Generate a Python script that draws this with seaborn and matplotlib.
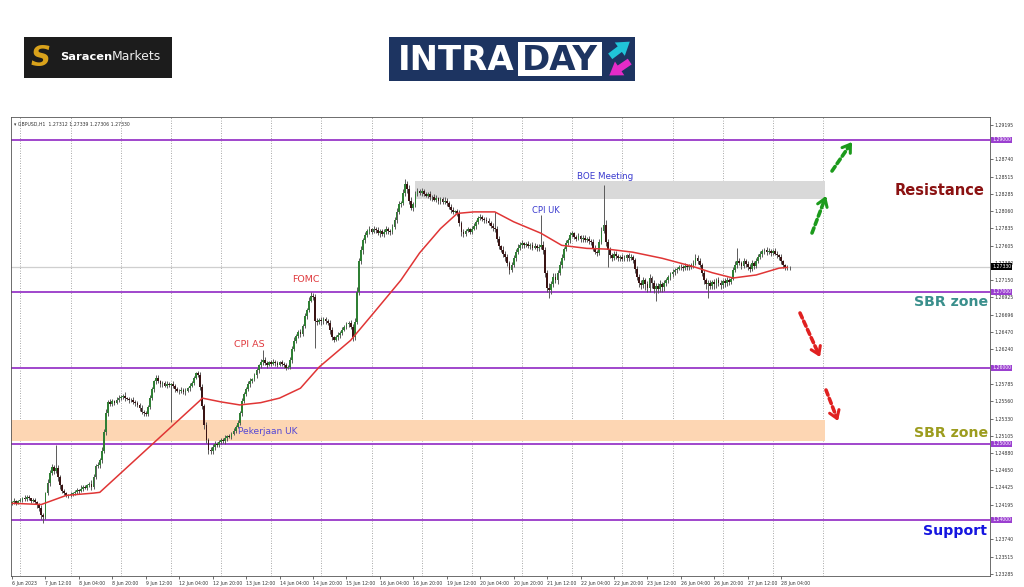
import numpy as np
import seaborn as sns
import matplotlib.pyplot as plt
from matplotlib.patches import Rectangle, FancyArrowPatch

# GBPUSD H1, 6 Jun 20:00 -> 28 Jun 08:00 (bar index = hours, weekends removed)
# closes in 1e-5 above 1.20000
closes = [
    4230, 4250, 4220, 4240, 4260, 4280, 4270, 4300, 4280, 4250,
    4260, 4230, 4200, 4150, 4060, 4040, 4350, 4480, 4620, 4690,
    4640, 4680, 4560, 4450, 4380, 4350, 4330, 4320, 4340, 4350,
    4370, 4390, 4380, 4410, 4430, 4420, 4450, 4470, 4430, 4560,
    4700, 4720, 4780, 4900, 5150, 5400, 5550, 5520, 5560, 5540,
    5580, 5600, 5620, 5630, 5600, 5590, 5570, 5580, 5550, 5530,
    5510, 5470, 5420, 5400, 5390, 5480, 5600, 5720, 5820, 5870,
    5820, 5780, 5800, 5760, 5790, 5770, 5790, 5760, 5720, 5700,
    5690, 5710, 5680, 5700, 5730, 5760, 5800, 5870, 5930, 5910,
    5750, 5500, 5250, 5050, 4920, 4900, 4950, 5000, 4980, 5020,
    5050, 5030, 5070, 5100, 5090, 5130, 5170, 5220, 5270, 5400,
    5560, 5650, 5720, 5790, 5830, 5850, 5900, 5970, 6030, 6080,
    6100, 6060, 6040, 6070, 6050, 6080, 6060, 6040, 6070, 6050,
    6030, 6000, 6010, 6100, 6250, 6350, 6420, 6470, 6450, 6550,
    6680, 6760, 6880, 6950, 6930, 6620, 6600, 6630, 6610, 6640,
    6620, 6590, 6500, 6400, 6370, 6400, 6430, 6460, 6500, 6540,
    6570, 6590, 6540, 6400, 6600, 7000, 7400, 7550, 7680, 7750,
    7800, 7820, 7790, 7830, 7810, 7770, 7800, 7760, 7790, 7820,
    7800, 7780, 7850, 7950, 8050, 8150, 8170, 8300, 8420, 8350,
    8200, 8100, 8150, 8280, 8330, 8300, 8320, 8290, 8260, 8280,
    8240, 8250, 8210, 8230, 8190, 8220, 8180, 8200, 8170, 8120,
    8080, 8050, 8060, 8030, 7900, 7780, 7760, 7800, 7820, 7790,
    7830, 7870, 7920, 7970, 7980, 7960, 7950, 7930, 7900, 7870,
    7840, 7820, 7700, 7600, 7550, 7500, 7460, 7380, 7290, 7350,
    7450, 7520, 7580, 7620, 7640, 7610, 7630, 7600, 7620, 7580,
    7600, 7570, 7590, 7620, 7550, 7250, 7050, 7020, 7100, 7200,
    7150, 7250, 7350, 7450, 7560, 7640, 7680, 7740, 7770, 7720,
    7700, 7730, 7690, 7710, 7680, 7700, 7670, 7650, 7580, 7520,
    7510, 7650, 7800, 7880, 7650, 7550, 7480, 7450, 7500, 7470,
    7440, 7460, 7430, 7450, 7480, 7440, 7460, 7420, 7300, 7200,
    7120, 7090, 7150, 7100, 7050, 7180, 7120, 7040, 7080, 7030,
    7100, 7060, 7120, 7150, 7200, 7230, 7260, 7280, 7300, 7320,
    7330, 7310, 7340, 7320, 7350, 7330, 7380, 7450, 7400, 7350,
    7250, 7150, 7100, 7120, 7080, 7130, 7100, 7150, 7120, 7090,
    7140, 7110, 7160, 7130, 7170, 7290, 7350, 7400, 7380, 7340,
    7400, 7370, 7330, 7300, 7380, 7340, 7400, 7460, 7500, 7530,
    7550, 7520, 7540, 7510, 7530, 7500, 7480, 7460, 7400, 7350,
    7310, 7320, 7330,
]
first_open = 4220

# upper / lower wick beyond the body, pips
wick_up = [
    2, 3, 1, 2, 3, 2, 4, 2, 3, 1,  2, 3, 1, 2, 4, 3, 2, 5, 3, 4,
    3, 30, 4, 3, 2, 3, 2, 1, 3, 2,  2, 3, 2, 4, 2, 3, 2, 3, 5, 4,
    3, 4, 3, 5, 4, 6, 3, 4, 3, 2,  3, 4, 2, 3, 5, 2, 3, 2, 3, 2,
    3, 2, 4, 2, 3, 3, 4, 3, 2, 3,  4, 2, 3, 2, 3, 2, 1, 3, 2, 3,
    2, 3, 2, 3, 2, 4, 3, 2, 1, 3,  3, 4, 2, 3, 2, 3, 4, 3, 2, 3,
    2, 3, 4, 2, 3, 2, 3, 2, 4, 3,  4, 3, 2, 3, 4, 2, 3, 3, 2, 4,
    13, 4, 3, 2, 3, 4, 2, 3, 2, 3,  2, 3, 2, 4, 3, 5, 3, 2, 4, 3,
    4, 3, 5, 4, 3, 4, 3, 2, 4, 3,  3, 2, 4, 3, 2, 3, 4, 2, 3, 2,
    3, 2, 4, 3, 5, 6, 4, 5, 3, 4,  3, 4, 2, 3, 2, 4, 3, 2, 3, 4,
    3, 2, 4, 3, 5, 4, 3, 5, 6, 4,  5, 4, 3, 4, 3, 2, 4, 3, 2, 3,
    4, 2, 3, 4, 2, 3, 2, 4, 3, 2,  3, 4, 2, 3, 5, 3, 4, 2, 3, 2,
    4, 3, 3, 2, 4, 3, 2, 3, 4, 3,  3, 21, 4, 3, 2, 5, 3, 4, 3, 4,
    3, 4, 5, 3, 4, 2, 3, 4, 2, 3,  4, 3, 4, 39, 5, 4, 3, 6, 4, 5,
    4, 3, 5, 4, 3, 4, 3, 4, 3, 2,  3, 4, 2, 3, 4, 2, 3, 3, 4, 3,
    3, 4, 5, 52, 6, 5, 4, 3, 4, 3,  3, 2, 4, 3, 2, 3, 4, 2, 3, 4,
    3, 4, 5, 3, 4, 5, 3, 4, 3, 4,  5, 3, 4, 3, 2, 3, 4, 3, 2, 3,
    3, 2, 4, 3, 2, 3, 4, 5, 3, 4,  3, 4, 3, 4, 3, 2, 4, 3, 4, 3,
    3, 4, 3, 2, 3, 4, 5, 17, 4, 3,  4, 3, 4, 3, 4, 3, 4, 3, 4, 3,
    3, 4, 3, 2, 3, 4, 3, 2, 3, 2,  2, 3, 1,
]
wick_dn = [
    3, 2, 3, 2, 1, 3, 2, 3, 2, 3,  2, 3, 4, 3, 5, 8, 3, 2, 4, 3,
    4, 3, 5, 4, 3, 2, 3, 4, 2, 3,  2, 3, 4, 2, 3, 2, 3, 2, 4, 3,
    3, 2, 4, 3, 2, 3, 4, 3, 2, 3,  2, 3, 2, 3, 4, 2, 3, 2, 3, 4,
    3, 4, 3, 4, 3, 2, 3, 2, 4, 3,  2, 3, 4, 2, 3, 2, 49, 3, 4, 2,
    3, 2, 3, 4, 2, 3, 2, 3, 2, 3,  4, 5, 6, 4, 5, 3, 4, 3, 2, 3,
    3, 2, 3, 4, 2, 3, 2, 3, 2, 3,  4, 3, 2, 3, 4, 3, 2, 3, 4, 3,
    5, 3, 4, 2, 3, 2, 4, 3, 2, 3,  4, 3, 2, 3, 4, 3, 2, 3, 4, 3,
    3, 4, 3, 2, 4, 36, 4, 3, 5, 3,  4, 3, 5, 4, 3, 2, 3, 4, 3, 2,
    3, 4, 3, 5, 4, 3, 4, 3, 5, 4,  3, 4, 3, 2, 4, 3, 5, 3, 4, 3,
    4, 3, 2, 3, 4, 3, 4, 3, 4, 5,  4, 3, 4, 3, 2, 3, 4, 3, 2, 3,
    3, 4, 2, 3, 4, 3, 2, 3, 4, 3,  4, 3, 2, 4, 3, 5, 4, 3, 2, 3,
    3, 2, 4, 3, 2, 3, 4, 3, 2, 3,  4, 3, 5, 4, 3, 4, 5, 4, 6, 3,
    3, 4, 2, 3, 4, 3, 2, 3, 4, 3,  2, 3, 4, 3, 5, 6, 5, 10, 5, 4,
    4, 5, 3, 4, 3, 2, 3, 4, 2, 3,  3, 2, 4, 3, 2, 3, 4, 3, 4, 3,
    4, 3, 2, 3, 5, 22, 4, 5, 3, 4,  3, 4, 2, 3, 4, 3, 2, 4, 5, 4,
    6, 5, 4, 8, 6, 5, 7, 6, 16, 5,  4, 6, 5, 4, 3, 4, 3, 4, 3, 2,
    3, 4, 2, 3, 4, 3, 2, 3, 4, 3,  4, 5, 6, 18, 5, 4, 6, 5, 4, 5,
    4, 5, 3, 4, 3, 2, 3, 4, 3, 4,  3, 4, 5, 4, 3, 4, 3, 2, 3, 4,
    3, 4, 3, 4, 3, 2, 3, 4, 3, 4,  3, 2, 3,
]

# moving average (bar index, price)
ma_idx = [0, 14, 22, 26, 39, 42, 90, 91, 100, 109, 119, 128, 138, 147, 162,
          173, 186, 195, 205, 213, 221, 231, 240, 253, 263, 275, 285, 297,
          311, 326, 335, 345, 356, 367, 371]
ma_val = [4216, 4200, 4280, 4320, 4350, 4360, 5570, 5600, 5550, 5510, 5540,
          5600, 5730, 6010, 6360, 6720, 7150, 7510, 7830, 8030, 8050, 8050,
          7920, 7770, 7610, 7570, 7560, 7520, 7440, 7330, 7250, 7180, 7220,
          7310, 7320]

xtick_labels = ["6 Jun 2023", "7 Jun 12:00", "8 Jun 04:00", "8 Jun 20:00",
                "9 Jun 12:00", "12 Jun 04:00", "12 Jun 20:00", "13 Jun 12:00",
                "14 Jun 04:00", "14 Jun 20:00", "15 Jun 12:00", "16 Jun 04:00",
                "16 Jun 20:00", "19 Jun 12:00", "20 Jun 04:00", "20 Jun 20:00",
                "21 Jun 12:00", "22 Jun 04:00", "22 Jun 20:00", "23 Jun 12:00",
                "26 Jun 04:00", "26 Jun 20:00", "27 Jun 12:00", "28 Jun 04:00"]
price_ticks = [1.29195, 1.28740, 1.28515, 1.28285, 1.28060, 1.27835, 1.27605,
               1.27380, 1.27150, 1.26925, 1.26696, 1.26470, 1.26240, 1.25785,
               1.25560, 1.25330, 1.25105, 1.24880, 1.24650, 1.24425, 1.24195,
               1.23740, 1.23515, 1.23285]
levels = [1.29, 1.27, 1.26, 1.25, 1.24]
last_price = 1.27330
resist_zone = (1.2822, 1.2846)
sbr_zone = (1.2504, 1.2531)

sns.set_theme(style="white")
plt.rcParams['font.family'] = ['DejaVu Sans']

W, H = 1024, 587
fig = plt.figure(figsize=(W / 100, H / 100), dpi=100)


def fp(x, y):
    return (x / W, 1 - y / H)


ax = fig.add_axes([11 / W, 1 - 576 / H, 979 / W, 459 / H])
ax.set_xlim(-0.48, 467.9)
ax.set_ylim(1.232592, 1.292987)

# candles
n = len(closes)
x = np.arange(n)
c = 1.2 + np.array(closes) / 1e5
o = np.r_[1.2 + first_open / 1e5, c[:-1]]
top = np.maximum(o, c)
bot = np.minimum(o, c)
hi = top + np.array(wick_up) * 1e-4
lo = bot - np.array(wick_dn) * 1e-4
body = np.maximum(top - bot, 4e-5)
cols = np.where(c >= o, '#2f7f34', '#3a1414')
ax.vlines(x, lo, hi, color='#5a5a5a', lw=0.7, zorder=3)
ax.bar(x, body, bottom=bot, width=0.85, color=cols, linewidth=0, zorder=4)

sns.lineplot(x=ma_idx, y=1.2 + np.array(ma_val) / 1e5, ax=ax,
             color='#e03535', lw=1.1, zorder=5)

# day separators
for d in range(4, 389, 24):
    ax.axvline(d, color='#8c8c8c', lw=0.6, ls=(0, (1, 2)), zorder=1)

ax.add_patch(Rectangle((192.8, resist_zone[0]), 389 - 192.8,
                       resist_zone[1] - resist_zone[0], color='#d9d9d9',
                       lw=0, zorder=1.5))
ax.add_patch(Rectangle((-0.5, sbr_zone[0]), 389.5, sbr_zone[1] - sbr_zone[0],
                       color='#fdd6b3', lw=0, zorder=1.5))

for lv in levels:
    ax.axhline(lv, color='#a046cc', lw=1.4, zorder=2)
ax.axhline(last_price, color='#cfcfcf', lw=0.9, zorder=1.8)

# axes like the MT4 window
ax.yaxis.tick_right()
ax.set_yticks(price_ticks)
ax.set_yticklabels([f'{v:.5f}' for v in price_ticks])
ax.set_xticks(np.arange(0, 369, 16))
ax.set_xticklabels(xtick_labels)
for lab in ax.get_xticklabels():
    lab.set_ha('left')
ax.tick_params(axis='both', labelsize=3.3, length=2, width=0.5, pad=1.5,
               colors='#333333')
ax.tick_params(axis='y', right=True, left=False)
ax.tick_params(axis='x', bottom=True)
for sp in ax.spines.values():
    sp.set_color('#555555')
    sp.set_linewidth(0.6)
ax.grid(False)

tr = ax.get_yaxis_transform()
for lv in levels:
    ax.text(1.0022, lv, f'{lv:.5f}', transform=tr, fontsize=3.3, color='white',
            va='center', ha='left', zorder=10,
            bbox=dict(boxstyle='square,pad=0.15', fc='#9b3fd0', ec='none'))
ax.text(1.0022, last_price, f'{last_price:.5f}', transform=tr, fontsize=3.3,
        color='white', va='center', ha='left', zorder=10,
        bbox=dict(boxstyle='square,pad=0.15', fc='black', ec='none'))

ax.text(0.003, 0.99, '\u25be GBPUSD,H1  1.27312 1.27339 1.27306 1.27330',
        transform=ax.transAxes, fontsize=3.3, color='#333333', va='top')

# event labels
ax.text(140.7, 1.27154, 'FOMC', color='#e03a3e', fontsize=6.8, ha='center',
        va='center', zorder=6)
ax.text(113.4, 1.26299, 'CPI AS', color='#e03a3e', fontsize=6.8, ha='center',
        va='center', zorder=6)
ax.text(108.1, 1.25167, 'Pekerjaan UK', color='#5548d4', fontsize=6.5,
        ha='left', va='center', zorder=6)
ax.text(255.5, 1.28075, 'CPI UK', color='#3a3acf', fontsize=6, ha='center',
        va='center', zorder=6)
ax.text(283.7, 1.28522, 'BOE Meeting', color='#3a3acf', fontsize=6.3,
        ha='center', va='center', zorder=6)

# zone labels on the right
fig.text(*fp(985, 191), 'Resistance', color='#8b1212', fontsize=10.5,
         fontweight='heavy', ha='right', va='center')
fig.text(*fp(988, 302), 'SBR zone', color='#3a8f8c', fontsize=10.2,
         fontweight='heavy', ha='right', va='center')
fig.text(*fp(988, 433), 'SBR zone', color='#9c9c1e', fontsize=10.2,
         fontweight='heavy', ha='right', va='center')
fig.text(*fp(987, 531), 'Support', color='#1515e0', fontsize=10.2,
         fontweight='heavy', ha='right', va='center')


def dash_arrow(p0, p1, col):
    x0, y0 = p0
    x1, y1 = p1
    d = np.hypot(x1 - x0, y1 - y0)
    ux, uy = (x1 - x0) / d, (y1 - y0) / d
    mid = (x1 - 4 * ux, y1 - 4 * uy)
    ax.annotate('', xy=fp(*mid), xytext=fp(*p0), xycoords='figure fraction',
                textcoords='figure fraction',
                arrowprops=dict(arrowstyle='-', color=col, lw=2.6,
                                linestyle=(0, (1.5, 1.0)), shrinkA=0, shrinkB=0))
    ax.annotate('', xy=fp(*p1), xytext=fp(*mid), xycoords='figure fraction',
                textcoords='figure fraction',
                arrowprops=dict(arrowstyle='->,head_length=0.45,head_width=0.3',
                                color=col, lw=2.2, shrinkA=0, shrinkB=0))


dash_arrow((812, 233), (826, 196), '#1c9a1c')
dash_arrow((832, 171), (852, 142), '#1c9a1c')
dash_arrow((800, 313), (820, 357), '#e02020')
dash_arrow((826, 390), (838, 421), '#e02020')

# Saracen Markets logo
fig.add_artist(Rectangle(fp(24, 78), 148 / W, 41 / H, transform=fig.transFigure,
                         color='#1c1c1c', lw=0))
fig.text(*fp(41, 58), 'S', fontsize=20, color='#d9a21b', fontweight='bold',
         style='italic', ha='center', va='center')
fig.text(*fp(60, 57), 'Saracen', fontsize=8.2, color='white', fontweight='bold',
         ha='left', va='center')
fig.text(*fp(112, 57), 'Markets', fontsize=8.9, color='#eeeeee',
         ha='left', va='center')

# INTRADAY logo
fig.add_artist(Rectangle(fp(389, 81), 246 / W, 44 / H, transform=fig.transFigure,
                         color='#1d3461', lw=0))
fig.add_artist(Rectangle(fp(518, 76), 84 / W, 34 / H, transform=fig.transFigure,
                         color='white', lw=0))
fig.text(*fp(515, 60), 'INTRA', fontsize=24.5, color='white', fontweight='bold',
         ha='right', va='center')
fig.text(*fp(560, 60), 'DAY', fontsize=24.5, color='#1d3461', fontweight='bold',
         ha='center', va='center')
fig.add_artist(FancyArrowPatch(fp(608, 58), fp(632, 40), transform=fig.transFigure,
                               arrowstyle='simple,head_width=1.2,head_length=0.9,tail_width=0.5',
                               mutation_scale=10, color='#20c4d8', lw=0))
fig.add_artist(FancyArrowPatch(fp(632, 60), fp(607, 77), transform=fig.transFigure,
                               arrowstyle='simple,head_width=1.2,head_length=0.9,tail_width=0.5',
                               mutation_scale=10, color='#e52bc8', lw=0))

fig.savefig('out.png', dpi=100)
